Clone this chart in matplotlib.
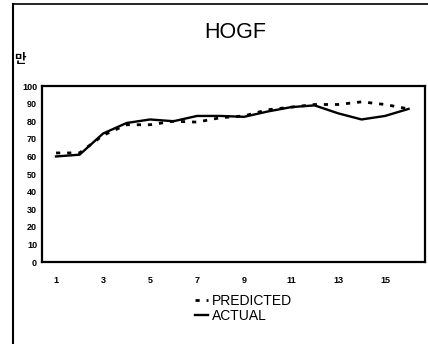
import matplotlib.pyplot as plt
from matplotlib.lines import Line2D
import numpy as np

plt.rcParams["font.family"] = ["Liberation Sans", "Noto Sans CJK KR", "DejaVu Sans"]

periods = np.arange(1, 17)
predicted = [62, 62, 72, 78, 78, 80, 79.5, 82, 83, 86.5, 88, 89.5, 89.5, 91, 89.5, 87]
actual = [60, 61, 73, 79, 81, 80, 83, 83, 82.5, 85.5, 88, 89, 84.5, 81, 83, 87]
x_ticks = [1, 3, 5, 7, 9, 11, 13, 15]
y_ticks = list(range(0, 101, 10))

fig = plt.figure(figsize=(4.28, 3.44), dpi=100)
ax = fig.add_axes([0.098, 0.238, 0.895, 0.512])

ax.plot(periods, predicted, color="black", lw=2, linestyle=(0, (1.5, 2.5)), label="PREDICTED")
ax.plot(periods, actual, color="black", lw=1.7, label="ACTUAL")

ax.set_xlim(0.4, 16.7)
ax.set_ylim(0, 100)
ax.set_xticks(x_ticks)
ax.set_yticks(y_ticks)
ax.tick_params(axis="both", length=0, labelsize=6.5)
ax.tick_params(axis="x", pad=10)
for lbl in ax.get_xticklabels() + ax.get_yticklabels():
    lbl.set_fontweight("bold")
for s in ax.spines.values():
    s.set_linewidth(1.6)

fig.text(0.55, 0.905, "HOGF", ha="center", va="center", fontsize=15.5)
fig.text(0.032, 0.825, "만", ha="left", va="center", fontsize=9, fontweight="bold")

# outer frame of the scanned page
fig.add_artist(Line2D([0.03, 1.0], [0.988, 0.988], color="black", lw=1.2))
fig.add_artist(Line2D([0.03, 0.03], [0.0, 0.988], color="black", lw=1.5))

fig.legend(loc="upper left", bbox_to_anchor=(0.44, 0.165), frameon=False,
           fontsize=10, handlelength=0.9, handletextpad=0.3, labelspacing=0.05,
           borderpad=0)

fig.savefig("out.png", dpi=100)
